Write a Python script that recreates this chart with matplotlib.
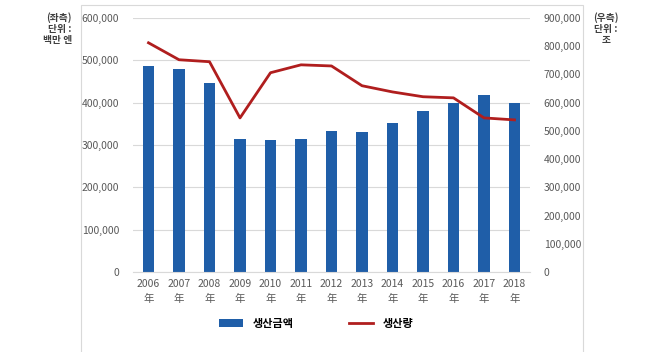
import matplotlib.pyplot as plt
from matplotlib.patches import Rectangle

plt.rcParams['font.family'] = ['Noto Sans CJK KR', 'DejaVu Sans']

years = ["2006", "2007", "2008", "2009", "2010", "2011", "2012",
         "2013", "2014", "2015", "2016", "2017", "2018"]
amount = [487000, 480000, 447000, 314000, 312000, 315000, 334000,
          331000, 352000, 381000, 399000, 418000, 399000]
volume = [812000, 752000, 745000, 546000, 706000, 734000, 730000,
          660000, 638000, 621000, 617000, 546000, 539000]

tick_labels = [y + "\n年" for y in years]
x = list(range(len(years)))

fig = plt.figure(figsize=(6.5, 3.52), dpi=100)
ax = fig.add_axes([0.205, 0.227, 0.61, 0.722])

# outer chart frame
fig.patches.append(Rectangle((81 / 650, -0.02), (583 - 81) / 650, 1 - 5 / 352 + 0.02,
                             transform=fig.transFigure, fill=False,
                             edgecolor="#d9d9d9", linewidth=0.8))

bars = ax.bar(x, amount, width=0.38, color="#1f5ea8", label="생산금액", zorder=2)
ax.set_ylim(0, 600000)
ax.set_xlim(-0.5, len(years) - 0.5)
ax.set_yticks(range(0, 600001, 100000))
ax.set_yticklabels([f"{v:,}" for v in range(0, 600001, 100000)])
ax.yaxis.grid(True, color="#d9d9d9", linewidth=0.8, zorder=0)
ax.set_axisbelow(True)
for s in ["top", "right", "left"]:
    ax.spines[s].set_visible(False)
ax.spines["bottom"].set_color("#d9d9d9")
ax.tick_params(axis="both", length=0, labelsize=7.5, colors="#595959")
ax.tick_params(axis="y", pad=10)
ax.tick_params(axis="x", pad=5)
ax.set_xticks(x)
ax.set_xticklabels(tick_labels, linespacing=1.55)

ax2 = ax.twinx()
line, = ax2.plot(x, volume, color="#b01e1e", linewidth=2, label="생산량", zorder=3)
ax2.set_ylim(0, 900000)
ax2.set_yticks(range(0, 900001, 100000))
ax2.set_yticklabels([f"{v:,}" for v in range(0, 900001, 100000)])
for s in ["top", "right", "left", "bottom"]:
    ax2.spines[s].set_visible(False)
ax2.tick_params(axis="y", length=0, labelsize=7.5, colors="#595959", pad=10)

fig.text(72 / 650, 1 - 12 / 352, "(좌측)\n단위 :\n백만 엔", ha="right", va="top",
         fontsize=7, fontweight="bold", color="#404040", linespacing=1.15)
fig.text(606 / 650, 1 - 12 / 352, "(우측)\n단위 :\n조", ha="center", va="top",
         fontsize=7, fontweight="bold", color="#404040", linespacing=1.15)

fig.legend([bars, line], ["생산금액", "생산량"], loc="center",
           bbox_to_anchor=(316 / 650, 1 - 323 / 352), ncol=2, frameon=False,
           handlelength=2.2, columnspacing=5, prop={"weight": "bold", "size": 8})

fig.savefig("out.png", dpi=100)
